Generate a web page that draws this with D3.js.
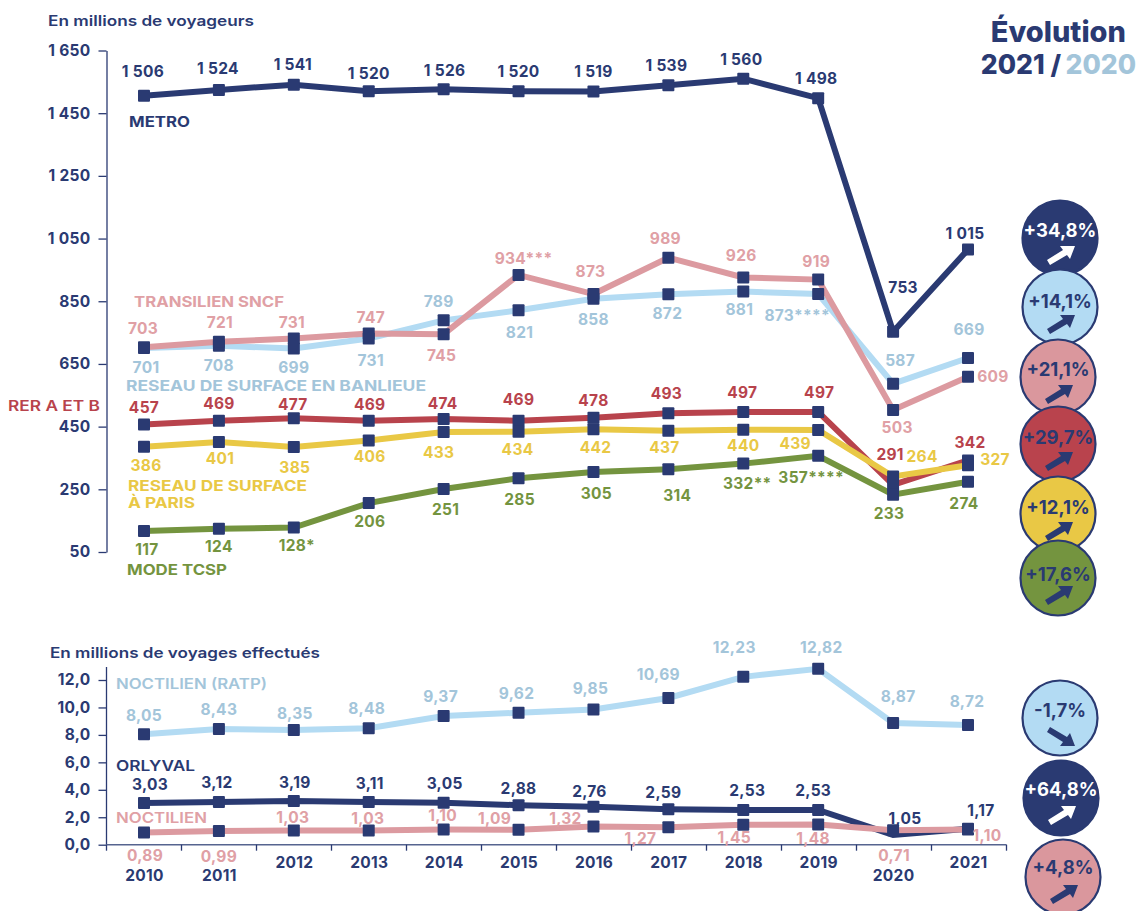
<!DOCTYPE html>
<html lang="fr">
<head>
<meta charset="utf-8">
<script src="https://cdn.jsdelivr.net/npm/d3@7/dist/d3.min.js"></script>
<style>
  html, body { margin: 0; background: white; }
  svg { display: block; }
  text { font-family: Inter, "Open Sans", sans-serif; }
</style>
</head>
<body>
<div id="chart"></div>
<script>
const years = [2010, 2011, 2012, 2013, 2014, 2015, 2016, 2017, 2018, 2019, 2020, 2021];

// top panel, millions of passengers
const metro = [1506, 1524, 1541, 1520, 1526, 1520, 1519, 1539, 1560, 1498, 753, 1015];
const transilien = [703, 721, 731, 747, 745, 934, 873, 989, 926, 919, 503, 609];
const banlieue = [701, 708, 699, 731, 789, 821, 858, 872, 881, 873, 587, 669];
// the 2020 labels of rer and paris are swapped in the source, the lines are not
const rer = [457, 469, 477, 469, 474, 469, 478, 493, 497, 497, 264, 342];
const paris = [386, 401, 385, 406, 433, 434, 442, 437, 440, 439, 291, 327];
const tcsp = [117, 124, 128, 206, 251, 285, 305, 314, 332, 357, 233, 274];

const metroLabels = ["1 506", "1 524", "1 541", "1 520", "1 526", "1 520", "1 519", "1 539", "1 560", "1 498", "753", "1 015"];
const transilienLabels = ["703", "721", "731", "747", "745", "934***", "873", "989", "926", "919", "503", "609"];
const banlieueLabels = ["701", "708", "699", "731", "789", "821", "858", "872", "881", "873****", "587", "669"];
const rerLabels = ["457", "469", "477", "469", "474", "469", "478", "493", "497", "497", "291", "342"];
const parisLabels = ["386", "401", "385", "406", "433", "434", "442", "437", "440", "439", "264", "327"];
const tcspLabels = ["117", "124", "128*", "206", "251", "285", "305", "314", "332**", "357****", "233", "274"];

// bottom panel, millions of trips
const noctilienRatp = [8.05, 8.43, 8.35, 8.48, 9.37, 9.62, 9.85, 10.69, 12.23, 12.82, 8.87, 8.72];
const orlyval = [3.03, 3.12, 3.19, 3.11, 3.05, 2.88, 2.76, 2.59, 2.53, 2.53, 0.71, 1.17];
const noctilien = [0.89, 0.99, 1.03, 1.03, 1.10, 1.09, 1.32, 1.27, 1.45, 1.48, 1.05, 1.10];

const noctilienRatpLabels = ["8,05", "8,43", "8,35", "8,48", "9,37", "9,62", "9,85", "10,69", "12,23", "12,82", "8,87", "8,72"];
const orlyvalLabels = ["3,03", "3,12", "3,19", "3,11", "3,05", "2,88", "2,76", "2,59", "2,53", "2,53", "1,05", "1,17"];
const noctilienLabels = ["0,89", "0,99", "1,03", "1,03", "1,10", "1,09", "1,32", "1,27", "1,45", "1,48", "0,71", "1,10"];

const topTicks = [50, 250, 450, 650, 850, 1050, 1250, 1450, 1650];
const bottomTicks = [0, 2, 4, 6, 8, 10, 12];

const width = 1137;
const height = 911;
const navy = "#2a3a72";
const lightBlue = "#b3dbf3";
const blueText = "#a3c5da";
const pink = "#dc9aa0";
const pinkText = "#e0a0a5";
const red = "#b8434c";
const yellow = "#e9c845";
const green = "#74943f";
const numberSize = 15.5;

const svg = d3.select("#chart").append("svg")
    .attr("width", width)
    .attr("height", height);

// points are a bit tighter than the tick band in the source
const x = d3.scalePoint().domain(years).range([144, 968]);
const xBand = d3.scaleBand().domain(years).range([106.5, 1006.5]);
const yTop = d3.scaleLinear().domain([50, 1650]).range([552, 50.5]);
const yBottom = d3.scaleLinear().domain([0, 12]).range([844.7, 680]);

const frLocale = d3.formatLocale({ decimal: ",", thousands: "\u00a0", grouping: [3], currency: ["", ""] });

// label nudges from the data point, px
const topSeries = [
    { values: banlieue, labels: banlieueLabels, color: lightBlue, text: blueText,
      dx: [2, 0, 0, 2, -5, 1, 0, -1, -4, -21, 7, 1],
      dy: [19, 20, 19, 22, -19, 22, 21, 19, 18, 21, -23, -29] },
    { values: transilien, labels: transilienLabels, color: pink, text: pinkText,
      dx: [-1, 1, -2, 2, -2, 5, -3, -3, -2, -2, 4, 25],
      dy: [-19, -19, -16, -16, 21, -17, -23, -19, -22, -18, 17, 0] },
    { values: metro, labels: metroLabels, color: navy, text: navy,
      dx: [-1, -1, -1, 0, 1, 0, 0, -2, -2, -2, 10, -3],
      dy: [-24, -22, -20, -18, -19, -20, -20, -20, -19, -20, -44, -16] },
    { values: rer, labels: rerLabels, color: red, text: red,
      dx: [0, 0, -1, 1, -1, 0, 0, -2, -1, 1, -3, 2],
      dy: [-17, -17, -14, -16, -16, -21, -17, -20, -19, -19, -31, -18] },
    { values: paris, labels: parisLabels, color: yellow, text: yellow,
      dx: [2, 1, 1, 1, -5, -1, 2, -4, 0, -23, 29, 27],
      dy: [19, 16, 20, 16, 20, 18, 18, 17, 16, 13, -20, -6] },
    { values: tcsp, labels: tcspLabels, color: green, text: green,
      dx: [3, 0, 3, 1, 2, 1, 3, 9, 4, -7, -4, -4],
      dy: [18, 18, 18, 18, 20, 21, 21, 26, 20, 22, 19, 22] }
];

const bottomSeries = [
    { values: noctilienRatp, labels: noctilienRatpLabels, color: lightBlue, text: blueText,
      dx: [0, 0, 1, -2, -3, -2, -3, -10, -9, 3, 5, -1],
      dy: [-19, -20, -17, -20, -20, -19, -21, -24, -29, -21, -27, -24] },
    // orlyval has no square on its 2020 low point in the source
    { values: orlyval, labels: orlyvalLabels, color: navy, text: navy, noMarker: [2020],
      dx: [6, -2, 1, 1, 1, 0, -4, -5, 4, -5, 12, 13],
      dy: [-19, -19, -18, -19, -19, -17, -15, -17, -20, -20, -17, -18] },
    { values: noctilien, labels: noctilienLabels, color: pink, text: pinkText,
      dx: [1, 0, -1, -1, -1, -24, -28, -28, -9, -5, 1, 19],
      dy: [23, 25, -13, -12, -14, -11, -8, 11, 13, 14, 25, 6] }
];

function drawSeries(list, y) {
    const line = d3.line().x((d, i) => x(years[i])).y(d => y(d));

    svg.append("g").selectAll("path")
        .data(list)
        .join("path")
        .attr("d", d => line(d.values))
        .attr("fill", "none")
        .attr("stroke", d => d.color)
        .attr("stroke-width", 6);

    svg.append("g").selectAll("g")
        .data(list)
        .join("g")
        .selectAll("rect")
        .data(d => d.values
            .map((v, i) => ({ v, year: years[i] }))
            .filter(p => !(d.noMarker || []).includes(p.year)))
        .join("rect")
        .attr("x", d => x(d.year) - 6)
        .attr("y", d => y(d.v) - 6)
        .attr("width", 12)
        .attr("height", 12)
        .attr("rx", 1)
        .attr("fill", navy);

    svg.append("g").selectAll("g")
        .data(list)
        .join("g")
        .attr("fill", d => d.text)
        .selectAll("text")
        .data(d => d.values.map((v, i) => ({ v, i, s: d })))
        .join("text")
        .attr("x", d => x(years[d.i]) + d.s.dx[d.i])
        .attr("y", d => y(d.v) + d.s.dy[d.i])
        .attr("dy", "0.36em")
        .attr("text-anchor", "middle")
        .attr("font-size", numberSize)
        .attr("font-weight", 700)
        .attr("letter-spacing", 0.3)
        .text(d => d.s.labels[d.i]);
}

function styleAxis(g) {
    g.selectAll("path, line").attr("stroke", navy).attr("stroke-width", 1.3);
    g.selectAll("text")
        .attr("font-family", "Inter")
        .attr("font-size", numberSize)
        .attr("font-weight", 700)
        .attr("letter-spacing", 0.3)
        .attr("fill", navy);
}

// axes
svg.append("g")
    .attr("transform", "translate(106.5,0)")
    .call(d3.axisLeft(yTop).tickValues(topTicks).tickSize(8).tickSizeOuter(0).tickPadding(8)
        .tickFormat(frLocale.format(",d")))
    .call(styleAxis);

svg.append("line")
    .attr("x1", 106.5).attr("x2", 106.5)
    .attr("y1", 667).attr("y2", yBottom(0))
    .attr("stroke", navy).attr("stroke-width", 1.3);

svg.append("g")
    .attr("transform", "translate(106.5,0)")
    .call(d3.axisLeft(yBottom).tickValues(bottomTicks).tickSize(8).tickSizeOuter(0).tickPadding(8)
        .tickFormat(frLocale.format(".1f")))
    .call(g => g.select(".domain").remove())
    .call(styleAxis);

const xAxis = svg.append("g")
    .attr("transform", `translate(0,${yBottom(0)})`)
    .call(d3.axisBottom(x).tickSize(0).tickPadding(12))
    .call(styleAxis);
// 2010, 2011 and 2020 sit one row lower, below the pink labels
xAxis.selectAll(".tick text")
    .attr("y", d => (d === 2010 || d === 2011 || d === 2020) ? 25 : 12);
xAxis.selectAll(".tick line").remove();
xAxis.select(".domain").remove();

svg.append("line")
    .attr("x1", xBand.range()[0]).attr("x2", xBand.range()[1])
    .attr("y1", yBottom(0)).attr("y2", yBottom(0))
    .attr("stroke", "#56648f").attr("stroke-width", 1.6);

svg.append("g").selectAll("line")
    .data(d3.range(0, years.length + 1))
    .join("line")
    .attr("x1", i => xBand.range()[0] + i * xBand.bandwidth())
    .attr("x2", i => xBand.range()[0] + i * xBand.bandwidth())
    .attr("y1", yBottom(0))
    .attr("y2", yBottom(0) + 6)
    .attr("stroke", navy)
    .attr("stroke-width", 1.3);

drawSeries(topSeries, yTop);
drawSeries(bottomSeries, yBottom);

// headers and series names: text, x, baseline, width in the source, colour, weight
const captions = [
    ["En millions de voyageurs", 48, 26, 206, navy, 600],
    ["En millions de voyages effectués", 50, 658, 270, navy, 600],
    ["METRO", 129, 127, 61, navy, 700],
    ["TRANSILIEN SNCF", 134, 307, 150, pinkText, 700],
    ["RESEAU DE SURFACE EN BANLIEUE", 126, 391, 300, blueText, 700],
    ["RER A ET B", 8, 411, 92, red, 600],
    ["RESEAU DE SURFACE", 128, 491, 179, yellow, 700],
    ["À PARIS", 128, 508, 67, yellow, 700],
    ["MODE TCSP", 127, 575, 100, green, 700],
    ["NOCTILIEN (RATP)", 116, 689, 151, blueText, 600],
    ["ORLYVAL", 116, 771, 79, navy, 600],
    ["NOCTILIEN", 116, 823, 91, pinkText, 600]
];

svg.append("g").selectAll("text")
    .data(captions)
    .join("text")
    .attr("x", d => d[1])
    .attr("y", d => d[2])
    .attr("textLength", d => d[3])
    .attr("lengthAdjust", "spacingAndGlyphs")
    .attr("fill", d => d[4])
    .attr("font-weight", d => d[5])
    .attr("font-size", 14.5)
    .text(d => d[0]);

// title
svg.append("text")
    .attr("x", 1126).attr("y", 42)
    .attr("text-anchor", "end")
    .attr("font-size", 29).attr("font-weight", 800)
    .attr("fill", navy)
    .text("Évolution");

svg.append("text")
    .attr("x", 1061).attr("y", 74)
    .attr("text-anchor", "end")
    .attr("font-size", 26.5).attr("font-weight", 800)
    .attr("fill", navy)
    .text("2021 /");

svg.append("text")
    .attr("x", 1136).attr("y", 74)
    .attr("text-anchor", "end")
    .attr("font-size", 26.5).attr("font-weight", 800)
    .attr("fill", blueText)
    .text("2020");

// evolution badges, textY is the middle of the percentage
const badges = [
    { label: "+34,8%", cx: 1060, cy: 238, fill: navy, ink: "white", up: true, textY: -8 },
    { label: "+14,1%", cx: 1060, cy: 307, fill: "#b3dbf3", ink: navy, up: true, textY: -6 },
    { label: "+21,1%", cx: 1058, cy: 377, fill: "#da979d", ink: navy, up: true, textY: -8 },
    { label: "+29,7%", cx: 1058, cy: 444, fill: "#b9434d", ink: navy, up: true, textY: -7 },
    { label: "+12,1%", cx: 1058, cy: 514, fill: "#e9c845", ink: navy, up: true, textY: -7 },
    { label: "+17,6%", cx: 1058, cy: 578, fill: "#74943f", ink: navy, up: true, textY: -4 },
    { label: "-1,7%", cx: 1060, cy: 718, fill: "#b3dbf3", ink: navy, up: false, textY: -8 },
    { label: "+64,8%", cx: 1061, cy: 798, fill: navy, ink: "white", up: true, textY: -9 },
    { label: "+4,8%", cx: 1063, cy: 877, fill: "#da979d", ink: navy, up: true, textY: -10 }
];

const badge = svg.append("g").selectAll("g")
    .data(badges)
    .join("g")
    .attr("transform", d => `translate(${d.cx},${d.cy})`);

badge.append("circle")
    .attr("r", 37.5)
    .attr("fill", d => d.fill)
    .attr("stroke", navy)
    .attr("stroke-width", 2.2);

badge.append("text")
    .attr("y", d => d.textY)
    .attr("dy", "0.36em")
    .attr("text-anchor", "middle")
    .attr("font-size", 18.5)
    .attr("font-weight", 700)
    .attr("fill", d => d.ink)
    .text(d => d.label);

badge.append("path")
    .attr("d", d => d.up
        ? "M-13,22L-10,27L7,17L10,21L15,8L0,8L3,12Z"
        : "M-13,14L-10,9L7,19L10,15L15,28L0,28L3,24Z")
    .attr("fill", d => d.ink);
</script>
</body>
</html>
